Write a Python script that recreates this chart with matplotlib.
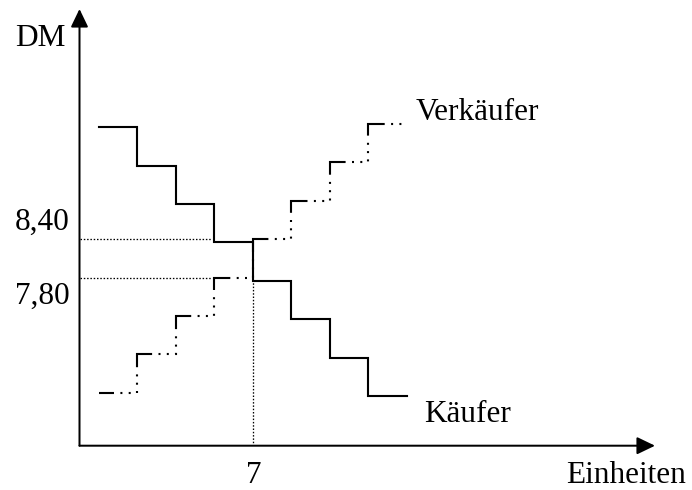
import matplotlib
matplotlib.use("Agg")
import matplotlib.pyplot as plt

# ---- data ----
units = [3, 4, 5, 6, 7, 8, 9, 10, 11]                     # step edges (Einheiten)
kaeufer = [10.15, 9.55, 8.95, 8.35, 7.75, 7.15, 6.55, 5.95]   # buyers' prices (DM)
verkaeufer = [6.00, 6.60, 7.20, 7.80, 8.40, 9.00, 9.60, 10.20]  # sellers' prices (DM)
price_levels = [8.40, 7.80]
price_labels = ["8,40", "7,80"]
quantity = 7
quantity_label = "7"

plt.rcParams["lines.scale_dashes"] = False
PX = 0.72  # points per pixel at dpi=100
FONT = "Liberation Serif"
FS = 22.5

W, H = 692, 490
fig = plt.figure(figsize=(W / 100, H / 100), dpi=100)
ax = fig.add_axes([79.5 / W, (H - 445.7) / H, (655 - 79.5) / W, (445.7 - 9) / H])
ax.set_xlim(2.507, 17.436)
ax.set_ylim(5.175, 11.998)
ax.axis("off")

# axes with arrows
arrow = dict(arrowstyle="-|>,head_length=11,head_width=5.3", mutation_scale=1,
             lw=2 * PX, color="black", shrinkA=0, shrinkB=0)
ax.annotate("", xy=(1, 0), xytext=(0, 0), xycoords="axes fraction", arrowprops=arrow)
ax.annotate("", xy=(0, 1), xytext=(0, 0), xycoords="axes fraction", arrowprops=arrow)

x0 = ax.get_xlim()[0]
y0 = ax.get_ylim()[0]

# buyers: solid step line
ax.step(units, kaeufer + [kaeufer[-1]], where="post", color="black",
        lw=2.1 * PX, solid_joinstyle="miter", clip_on=False)

# sellers: dash + dots step line
pat_px = [28.3, 6.4, 2, 6.3, 2, 6.3, 2, 6.3, 2, 6.3, 2, 7.2]
pat = tuple(p * PX for p in pat_px)
ax.step(units, verkaeufer + [verkaeufer[-1]], where="post", color="black",
        lw=2.1 * PX, linestyle=(13.3 * PX, pat), dash_joinstyle="miter",
        dash_capstyle="butt", clip_on=False)

# dotted guide lines
dot = (0, (1.5 * PX, 1.8 * PX))
stop_x = units[3] - 0.05
for lvl in price_levels:
    ax.plot([x0, stop_x], [lvl, lvl], color="black", lw=1.3 * PX, linestyle=dot)
ax.plot([quantity, quantity], [y0, kaeufer[4]], color="black", lw=1.3 * PX, linestyle=dot)

# texts (pixel positions from top-left)
def ftext(x, y, s, ha="left"):
    fig.text(x / W, 1 - y / H, s, ha=ha, va="baseline", fontsize=FS, family=FONT)

ftext(15, 46, "DM")
ftext(70, 230, price_labels[0], ha="right")
ftext(70, 303.5, price_labels[1], ha="right")
ftext(254, 482.5, quantity_label, ha="center")
ftext(566, 482.5, "Einheiten")
ftext(416, 120, "Verkäufer")
ftext(424, 421.5, "Käufer")

fig.savefig("out.png", dpi=100)
